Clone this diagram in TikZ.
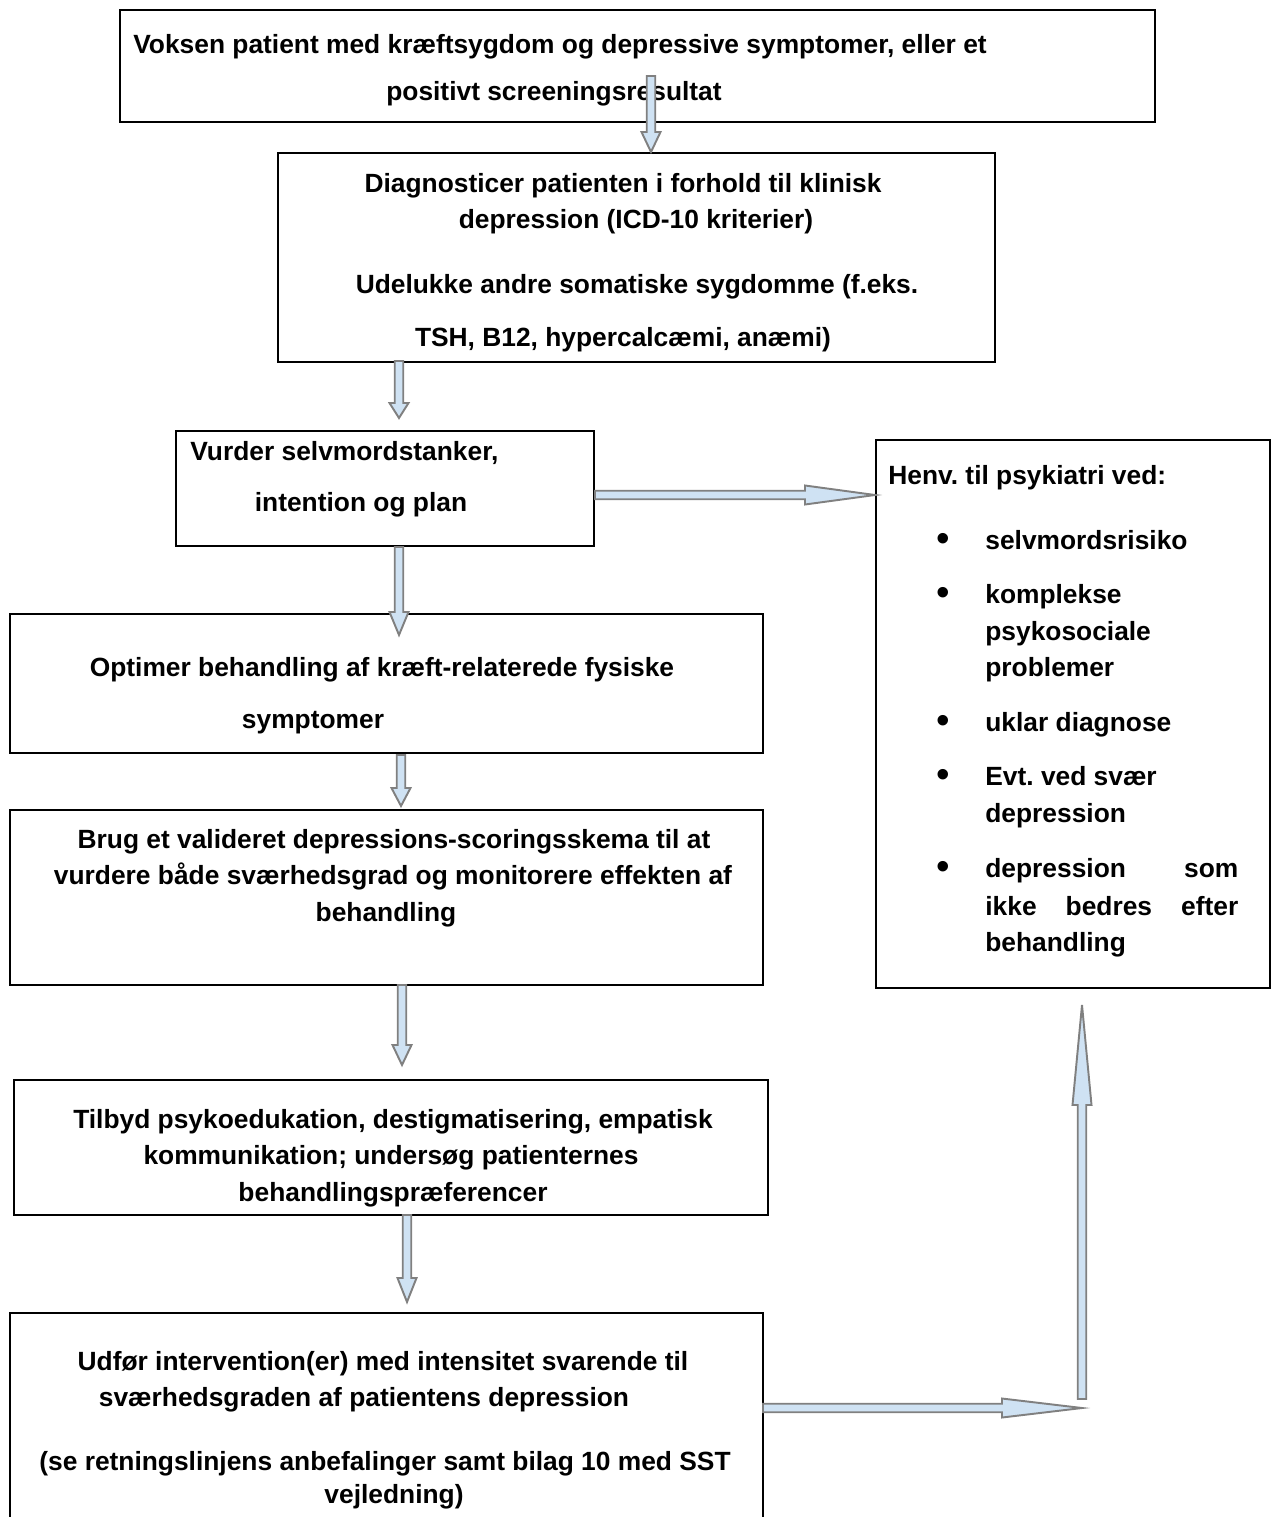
\documentclass[tikz,border=0pt]{standalone}
\usepackage{fontspec}
\setmainfont{Liberation Sans}
\usetikzlibrary{positioning,calc}
\frenchspacing

\definecolor{arrowfill}{RGB}{207,226,243}
\definecolor{arrowline}{RGB}{128,128,128}

% block arrow: start, tip, head length
\newcommand{\blockarrow}[3]{%
  \coordinate (hb) at ($(#2)!#3!(#1)$);
  \filldraw[arrowbody]
    ($(#1)!0.085cm!90:(#2)$) -- ($(hb)!0.085cm!90:(#2)$) --
    ($(hb)!0.19cm!90:(#2)$) -- (#2) --
    ($(hb)!0.19cm!-90:(#2)$) -- ($(hb)!0.085cm!-90:(#2)$) --
    ($(#1)!0.085cm!-90:(#2)$) -- cycle;
}

\begin{document}
\begin{tikzpicture}[x=0.02cm,y=-0.02cm,
    box/.style={draw,line width=1.4pt,rectangle,inner sep=0pt},
    txt/.style={anchor=base,inner sep=0pt,font=\bfseries\fontsize{15}{18}\selectfont},
    dot/.style={anchor=base,inner sep=0pt,font=\fontsize{22}{22}\selectfont},
    arrowbody/.style={fill=arrowfill,draw=arrowline,line width=1.1pt,line join=miter}]

  \useasboundingbox (0,0) rectangle (1272,1517);

  % boxes
  \node[box,minimum width=20.7cm,minimum height=2.24cm] (start) at (637.5,66) {};
  \node[box,minimum width=14.34cm,minimum height=4.18cm] (diag) at (636.5,257.5) {};
  \node[box,minimum width=8.36cm,minimum height=2.3cm] (vurder) at (385,488.5) {};
  \node[box,minimum width=7.88cm,minimum height=10.96cm] (henv) at (1073,714) {};
  \node[box,minimum width=15.06cm,minimum height=2.78cm] (optimer) at (386.5,683.5) {};
  \node[box,minimum width=15.06cm,minimum height=3.5cm] (brug) at (386.5,897.5) {};
  \node[box,minimum width=15.08cm,minimum height=2.7cm] (tilbyd) at (391,1147.5) {};
  \node[box,minimum width=15.06cm,minimum height=4.1cm] (udfoer) at (386.5,1415.5) {};

  % texts
  \node[txt,anchor=base west] (start1) at (133,54) {Voksen patient med kræftsygdom og depressive symptomer, eller et};
  \node[txt] (start2) at (554,101) {positivt screeningsresultat};

  \node[txt] (diag1) at (623,193) {Diagnosticer patienten i forhold til klinisk};
  \node[txt] (diag2) at (636,229) {depression (ICD-10 kriterier)};
  \node[txt] (diag3) at (637,293) {Udelukke andre somatiske sygdomme (f.eks.};
  \node[txt] (diag4) at (623,346) {TSH, B12, hypercalcæmi, anæmi)};

  \node[txt,anchor=base west] (vurder1) at (190,460) {Vurder selvmordstanker,};
  \node[txt] (vurder2) at (361,511) {intention og plan};

  \node[txt,anchor=base west] (henv0) at (888,484) {Henv. til psykiatri ved:};
  \foreach \y in {549,603,731,785,877}
    \node[dot] at (943,\y+2) {•};
  \node[txt,anchor=base west] (henv1) at (985,549) {selvmordsrisiko};
  \node[txt,anchor=base west] (henv2a) at (985,603) {komplekse};
  \node[txt,anchor=base west] (henv2b) at (985,640) {psykosociale};
  \node[txt,anchor=base west] (henv2c) at (985,676) {problemer};
  \node[txt,anchor=base west] (henv3) at (985,731) {uklar diagnose};
  \node[txt,anchor=base west] (henv4a) at (985,785) {Evt. ved svær};
  \node[txt,anchor=base west] (henv4b) at (985,822) {depression};
  \node[txt,anchor=base west] (henv5a) at (985,877) {\makebox[5.06cm][s]{depression som}};
  \node[txt,anchor=base west] (henv5b) at (985,915) {\makebox[5.06cm][s]{ikke bedres efter}};
  \node[txt,anchor=base west] (henv5c) at (985,951) {behandling};

  \node[txt] (optimer1) at (382,676) {Optimer behandling af kræft-relaterede fysiske};
  \node[txt] (optimer2) at (313,728) {symptomer};

  \node[txt] (brug1) at (394,848) {Brug et valideret depressions-scoringsskema til at};
  \node[txt] (brug2) at (393,884) {vurdere både sværhedsgrad og monitorere effekten af};
  \node[txt] (brug3) at (386,921) {behandling};

  \node[txt] (tilbyd1) at (393,1128) {Tilbyd psykoedukation, destigmatisering, empatisk};
  \node[txt] (tilbyd2) at (391,1164) {kommunikation; undersøg patienternes};
  \node[txt] (tilbyd3) at (393,1201) {behandlingspræferencer};

  \node[txt] (udfoer1) at (383,1370) {Udfør intervention(er) med intensitet svarende til};
  \node[txt] (udfoer2) at (364,1406) {sværhedsgraden af patientens depression};
  \node[txt] (udfoer3) at (385,1470) {(se retningslinjens anbefalinger samt bilag 10 med SST};
  \node[txt] (udfoer4) at (394,1503) {vejledning)};

  % arrow ends
  \coordinate (a1s) at (651,76);   \coordinate (a1e) at (651,152);
  \coordinate (a2s) at (399,361);  \coordinate (a2e) at (399,418);
  \coordinate (a3s) at (399,547);  \coordinate (a3e) at (399,635);
  \coordinate (a4s) at (401,755);  \coordinate (a4e) at (401,806);
  \coordinate (a5s) at (402,985);  \coordinate (a5e) at (402,1065);
  \coordinate (a6s) at (407,1215); \coordinate (a6e) at (407,1302);
  \coordinate (a7s) at (595,495);  \coordinate (a7e) at (875,495);
  \coordinate (a8s) at (763,1408); \coordinate (a8e) at (1082,1408);
  \coordinate (a9s) at (1082,1399); \coordinate (a9e) at (1082,1005);

  \blockarrow{a1s}{a1e}{0.4cm}
  \blockarrow{a2s}{a2e}{0.3cm}
  \blockarrow{a3s}{a3e}{0.46cm}
  \blockarrow{a4s}{a4e}{0.36cm}
  \blockarrow{a5s}{a5e}{0.4cm}
  \blockarrow{a6s}{a6e}{0.48cm}
  \blockarrow{a7s}{a7e}{1.4cm}
  \blockarrow{a8s}{a8e}{1.6cm}
  \blockarrow{a9s}{a9e}{2cm}
\end{tikzpicture}
\end{document}
